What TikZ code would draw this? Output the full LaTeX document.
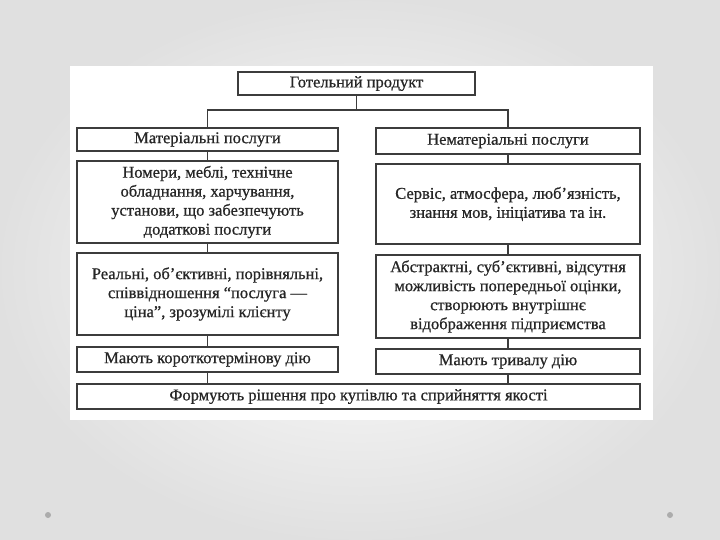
\documentclass[tikz,border=0pt]{standalone}
\usepackage{fontspec}
\setmainfont{Liberation Serif}[FakeBold=0.7]
\definecolor{ink}{HTML}{262626}
\definecolor{edge}{HTML}{3C3C3C}
\begin{document}
\begin{tikzpicture}[x=1pt,y=-1pt,
  box/.style={draw=edge, line width=1.4pt, fill=white, inner sep=1pt,
    text=ink, align=center, font=\fontsize{16.5}{19}\selectfont},
  link/.style={draw=edge, line width=1.4pt}]
\useasboundingbox (0,0) rectangle (720,540);
\shade[inner color=white, outer color=gray!24] (0,0) rectangle (720,540);
\fill[white] (70,66) rectangle (653,420);
\fill[gray!65] (48,515) circle (3);
\fill[gray!65] (670,515) circle (3);

\node[box, minimum width=237, minimum height=23] (top) at (356.5,83.5) {Готельний продукт};

\node[box, minimum width=261, minimum height=23] (L1) at (207.5,139.5) {Матеріальні послуги};
\node[box, minimum width=264, minimum height=26] (R1) at (508,141) {Нематеріальні послуги};

\node[box, minimum width=261, minimum height=82] (L2) at (207.5,202) {Номери, меблі, технічне\\обладнання, харчування,\\установи, що забезпечують\\додаткові послуги};
\node[box, minimum width=264, minimum height=80] (R2) at (508,204) {Сервіс, атмосфера, люб’язність,\\знання мов, ініціатива та ін.};

\node[box, minimum width=261, minimum height=82] (L3) at (207.5,294) {Реальні, об’єктивні, порівняльні,\\співвідношення “послуга —\\ціна”, зрозумілі клієнту};
\node[box, minimum width=264, minimum height=83] (R3) at (508,296.5) {Абстрактні, суб’єктивні, відсутня\\можливість попередньої оцінки,\\створюють внутрішнє\\відображення підприємства};

\node[box, minimum width=261, minimum height=25] (L4) at (207.5,359.5) {Мають короткотермінову дію};
\node[box, minimum width=264, minimum height=25] (R4) at (508,361.5) {Мають тривалу дію};

\node[box, minimum width=563, minimum height=25] (B) at (358.5,396.5) {Формують рішення про купівлю та сприйняття якості};

\coordinate (j) at (356.5,110);
\draw[link] (top.south) -- (j);
\draw[link] (L1.north) -- (L1.north |- j) -- (R1.north |- j) -- (R1.north);
\draw[link] (L1) -- (L2);
\draw[link] (L2) -- (L3);
\draw[link] (L3) -- (L4);
\draw[link] (L4.south) -- (L4.south |- B.north);
\draw[link] (R1) -- (R2);
\draw[link] (R2) -- (R3);
\draw[link] (R3) -- (R4);
\draw[link] (R4.south) -- (R4.south |- B.north);
\end{tikzpicture}
\end{document}
